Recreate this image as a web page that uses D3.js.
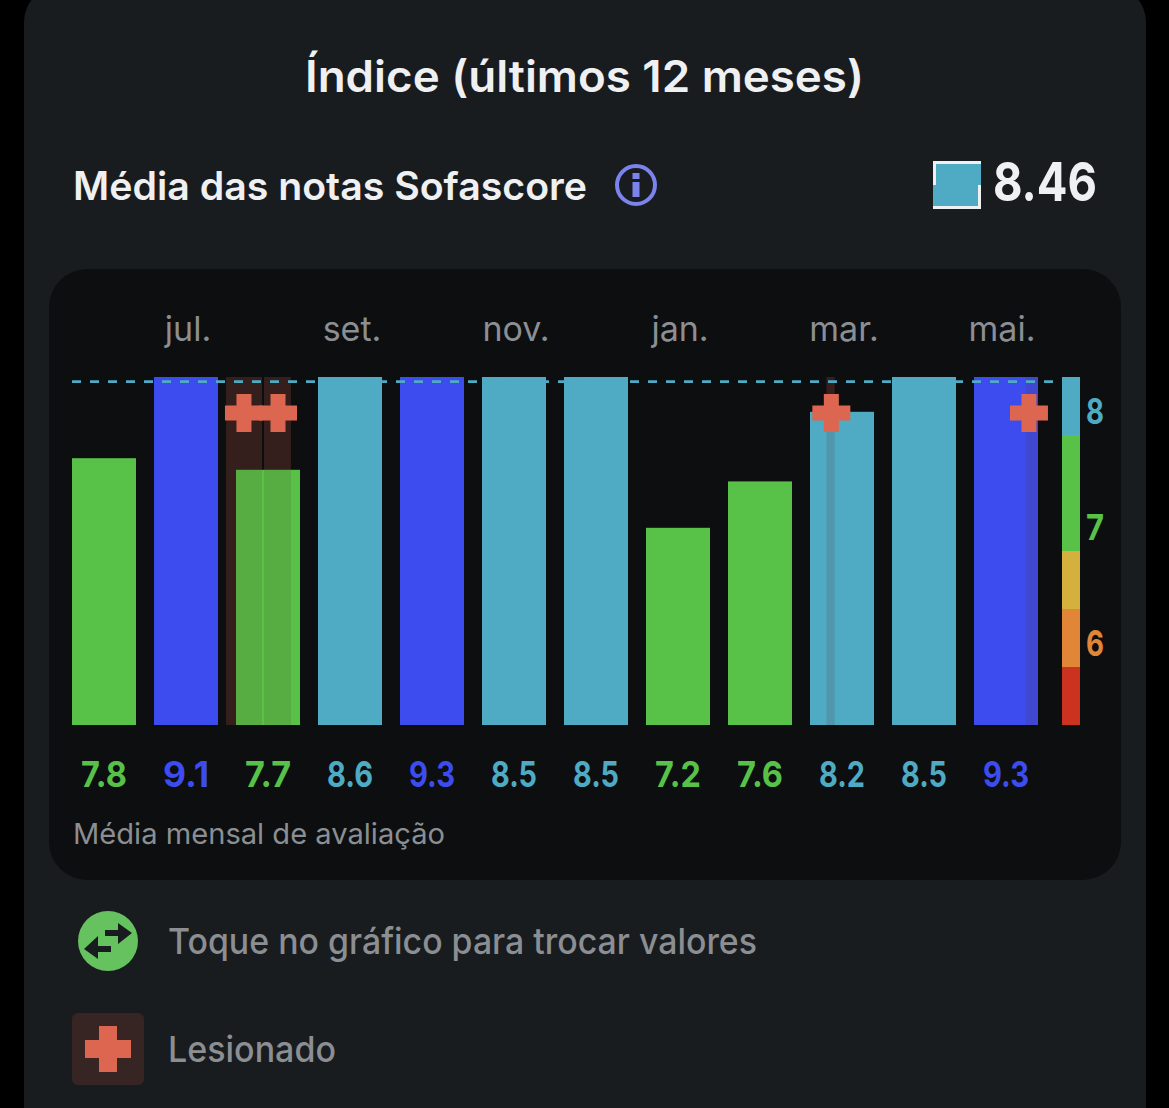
<!DOCTYPE html>
<html lang="pt">
<head>
<meta charset="utf-8">
<title>Índice (últimos 12 meses)</title>
<script src="https://cdn.jsdelivr.net/npm/d3@7/dist/d3.min.js"></script>
<style>
html,body{margin:0;padding:0;background:#000;overflow:hidden}
svg{display:block}
text{font-family:Inter,"Noto Sans",sans-serif}
.domain{display:none}
</style>
</head>
<body>
<svg id="c" width="1169" height="1108"></svg>
<script>
const months = ["jun.","jul.","ago.","set.","out.","nov.","dez.","jan.","fev.","mar.","abr.","mai."];
const monthTicks = ["jul.","set.","nov.","jan.","mar.","mai."];
const ratings = [7.8,9.1,7.7,8.6,9.3,8.5,8.5,7.2,7.6,8.2,8.5,9.3];
const average = 8.46;
const legendStops = [5.5,6,6.5,7,8,8.5];
const legendTicks = [6,7,8];
const colorBreaks = [6,6.5,7,8,9];
const colorRange = ["#cb3220","#e08636","#d4b13c","#57c247","#4faac4","#3d4cef"];
// Injury periods, in month positions (0 = centre of jun.)
const injuryStart = [1.488,1.951,8.81,11.24];
const injuryEnd   = [1.927,2.280,8.91,11.39];
const injuryMark  = [1.707,2.122,8.87,11.28];

const svg = d3.select("#c");
const color = d3.scaleThreshold().domain(colorBreaks).range(colorRange);
const x = d3.scaleBand().domain(months).range([72,1038]).paddingInner(18/82).paddingOuter(0);
const y = d3.scaleLinear().domain([5.5,8.5]).range([725,377]).clamp(true);
const xPos = d3.scaleLinear().domain([0,11]).range([x(months[0])+x.bandwidth()/2, x(months[11])+x.bandwidth()/2]);

const ink="#eff0f2", grey="#8b8e92", hurt="#dd6650";

// panels
svg.append("rect").attr("x",24).attr("y",-14).attr("width",1122).attr("height",1180).attr("rx",36).attr("fill","#191c1f");
svg.append("rect").attr("x",49).attr("y",269).attr("width",1072).attr("height",611).attr("rx",38).attr("fill","#0c0e10");

// headings
function label(t,px,py,size,weight,fill,len,anchor){
  const el=svg.append("text").attr("x",px).attr("y",py).attr("font-size",size).attr("font-weight",weight)
    .attr("fill",fill).attr("text-anchor",anchor||"start").text(t);
  if(len) el.attr("textLength",len).attr("lengthAdjust","spacingAndGlyphs");
  return el;
}
label("Índice (últimos 12 meses)",584.5,92,44,600,ink,559,"middle");
label("Média das notas Sofascore",73,200,39,600,ink,514);
label(d3.format(".2f")(average),993,201,54,700,ink,104);

// info icon
svg.append("circle").attr("cx",636).attr("cy",185).attr("r",19).attr("fill","none").attr("stroke","#7b83ec").attr("stroke-width",4);
svg.append("rect").attr("x",632.5).attr("y",173).attr("width",7).attr("height",6).attr("fill","#7b83ec");
svg.append("rect").attr("x",632.5).attr("y",182).attr("width",7).attr("height",15).attr("fill","#7b83ec");

// average swatch
const swatch = color(average);
svg.append("rect").attr("x",933).attr("y",161).attr("width",48).attr("height",48).attr("fill",swatch);
svg.append("rect").attr("x",933).attr("y",161).attr("width",48).attr("height",3).attr("fill",ink);
svg.append("rect").attr("x",933).attr("y",161).attr("width",3).attr("height",24).attr("fill",ink);
svg.append("rect").attr("x",978).attr("y",185).attr("width",3).attr("height",24).attr("fill",ink);
svg.append("rect").attr("x",933).attr("y",206).attr("width",48).attr("height",3).attr("fill",ink);

// month axis
const axis = d3.axisTop(x).tickValues(monthTicks).tickSize(0).tickPadding(0);
const axG = svg.append("g").attr("transform","translate(2,341)").call(axis);
axG.selectAll("text").attr("font-size",34).attr("font-weight",400).attr("fill",grey).attr("dy",0)
  .attr("font-family","Inter, sans-serif");
axG.selectAll(".tick").filter(d=>d==="mai.").select("text").attr("dx",-6);

// injury bands behind bars
const bands = g => g.selectAll("rect").data(injuryStart).join("rect")
  .attr("x",d=>xPos(d)).attr("width",(d,i)=>xPos(injuryEnd[i])-xPos(d))
  .attr("y",y.range()[1]).attr("height",y.range()[0]-y.range()[1]);
svg.append("g").call(bands).selectAll("rect").attr("fill","#2f1d1b");

// bars
svg.append("g").selectAll("rect").data(ratings).join("rect")
  .attr("x",(d,i)=>x(months[i])).attr("width",x.bandwidth())
  .attr("y",d=>y(d)).attr("height",d=>y.range()[0]-y(d))
  .attr("fill",d=>color(d));

// injury tint over bars
svg.append("g").call(bands).selectAll("rect").attr("fill","#5a3028").attr("fill-opacity",0.15);

// average line
svg.append("line").attr("x1",72).attr("x2",1053).attr("y1",y(average)).attr("y2",y(average))
  .attr("stroke","#4faac4").attr("stroke-width",2.6).attr("stroke-dasharray","9 9");

// injury crosses
const crossPath = (cx,cy,l,t)=>`M${cx-t/2} ${cy-l/2}h${t}v${(l-t)/2}h${(l-t)/2}v${t}h${-(l-t)/2}v${(l-t)/2}h${-t}v${-(l-t)/2}h${-(l-t)/2}v${-t}h${(l-t)/2}z`;
svg.append("g").selectAll("path").data(injuryMark).join("path")
  .attr("d",d=>crossPath(xPos(d),413,38,15)).attr("fill",hurt);

// value labels
svg.append("g").selectAll("text").data(ratings).join("text")
  .attr("x",(d,i)=>x(months[i])+x.bandwidth()/2).attr("y",787)
  .attr("text-anchor","middle").attr("font-size",36).attr("font-weight",700)
  .attr("font-family","Roboto, sans-serif")
  .attr("textLength",46).attr("lengthAdjust","spacingAndGlyphs")
  .attr("fill",d=>color(d)).text(d=>d.toFixed(1));

// colour legend
svg.append("g").selectAll("rect").data(d3.pairs(legendStops)).join("rect")
  .attr("x",1062).attr("width",18).attr("y",d=>y(d[1])).attr("height",d=>y(d[0])-y(d[1]))
  .attr("fill",d=>color(d[0]));
svg.append("g").selectAll("text").data(legendTicks).join("text")
  .attr("x",1095).attr("y",d=>y(d+0.2)+12).attr("text-anchor","middle")
  .attr("font-size",36).attr("font-weight",700).attr("font-family","Roboto, sans-serif")
  .attr("textLength",18).attr("lengthAdjust","spacingAndGlyphs")
  .attr("fill",d=>color(d)).text(d=>d);

label("Média mensal de avaliação",73,844,29,400,grey,372);

// swap hint
svg.append("circle").attr("cx",108).attr("cy",941).attr("r",30).attr("fill","#66c25e");
svg.append("path").attr("fill","#191c1f").attr("d","M105 930H118V923L132 933L118 944V936H105Z");
svg.append("path").attr("fill","#191c1f").attr("d","M111 946H98V936L84 949L98 959V952H111Z");
label("Toque no gráfico para trocar valores",168,954,36,500,grey,589);

// injured key
svg.append("rect").attr("x",72).attr("y",1013).attr("width",72).attr("height",72).attr("rx",6).attr("fill","#372524");
svg.append("path").attr("d",crossPath(108,1049,46,18)).attr("fill",hurt);
label("Lesionado",168,1062,36,500,grey,168);
</script>
</body>
</html>
